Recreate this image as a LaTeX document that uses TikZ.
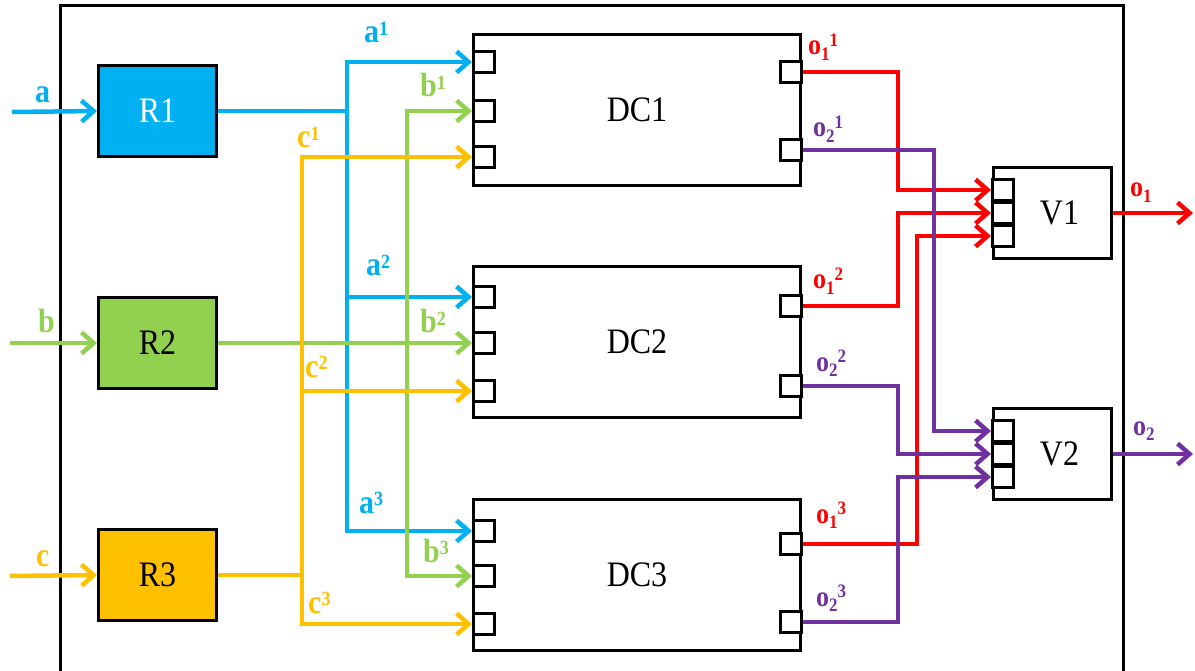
\documentclass[tikz,border=0pt]{standalone}
\usepackage{fontspec}
\setmainfont{Liberation Serif}
\usepackage{graphicx}
\usetikzlibrary{arrows.meta}
\definecolor{cblue}{HTML}{00B0F0}
\definecolor{cgreen}{HTML}{92D050}
\definecolor{corange}{HTML}{FFC000}
\definecolor{cred}{HTML}{FF0000}
\definecolor{cpurple}{HTML}{7030A0}
\newcommand\stz[1]{\scalebox{1}[1.12]{#1}}
\newcommand\lsp[1]{\raisebox{7pt}{\fontsize{18}{19}\selectfont #1}}
\newcommand\osb[1]{\raisebox{-5pt}{\fontsize{17}{18}\selectfont #1}}
\newcommand\osp[1]{\raisebox{8pt}{\fontsize{17}{18}\selectfont #1}}
\begin{document}
\begin{tikzpicture}[x=1pt,y=-1pt,
  blk/.style={draw=black, line width=3pt, inner sep=0pt, font=\fontsize{32}{34}\selectfont},
  rblk/.style={blk, minimum width=118pt, minimum height=91pt},
  dcblk/.style={blk, minimum width=327pt, minimum height=151pt},
  vblk/.style={blk, minimum width=118pt, minimum height=91pt},
  port/.style={draw=black, line width=3pt, minimum size=21pt, inner sep=0pt, fill=white},
  wire/.style={line width=4.5pt, line join=miter},
  arr/.style={wire, -{Straight Barb[length=12pt,width=21pt]}},
  lbl/.style={inner sep=0pt, anchor=base west, font=\fontsize{30}{31}\selectfont\bfseries},
  olbl/.style={inner sep=0pt, anchor=base west, font=\fontsize{26}{27}\selectfont\bfseries}]
\useasboundingbox (0,0) rectangle (1195,671);
% outer frame
\draw[line width=3pt] (60,680) -- (60,6) -- (1123,6) -- (1123,680);

% R blocks
\node[rblk, fill=cblue]   (R1) at (157.5,111) {\stz{\textcolor{white}{R1}}};
\node[rblk, fill=cgreen]  (R2) at (157.5,343) {\stz{R2}};
\node[rblk, fill=corange] (R3) at (157.5,575) {\stz{R3}};

% DC blocks
\node[dcblk] (DC1) at (637,110) {\stz{DC1}};
\node[dcblk] (DC2) at (637,342) {\stz{DC2}};
\node[dcblk] (DC3) at (637,575) {\stz{DC3}};

% DC left ports
\node[port] (DC1a) at (484,62) {};
\node[port] (DC1b) at (484,111) {};
\node[port] (DC1c) at (484,157) {};
\node[port] (DC2a) at (484,297) {};
\node[port] (DC2b) at (484,343) {};
\node[port] (DC2c) at (484,391) {};
\node[port] (DC3a) at (484,531) {};
\node[port] (DC3b) at (484,576) {};
\node[port] (DC3c) at (484,624) {};
% DC right ports
\node[port] (DC1o) at (791,72) {};
\node[port] (DC1p) at (791,150) {};
\node[port] (DC2o) at (791,306) {};
\node[port] (DC2p) at (791,386) {};
\node[port] (DC3o) at (791,544) {};
\node[port] (DC3p) at (791,622) {};

% V blocks
\node[vblk] (V1) at (1052.5,213) {\hspace*{14pt}\stz{V1}};
\node[vblk] (V2) at (1052.5,454) {\hspace*{14pt}\stz{V2}};
\node[port] (V1a) at (1003,190) {};
\node[port] (V1b) at (1003,213) {};
\node[port] (V1c) at (1003,236) {};
\node[port] (V2a) at (1003,431) {};
\node[port] (V2b) at (1003,454) {};
\node[port] (V2c) at (1003,477) {};

% inputs
\coordinate (ain) at (12,112);
\coordinate (bin) at (10,343);
\coordinate (cin) at (10,576);
\draw[arr, cblue]   (ain) -- (R1.west);
\draw[arr, cgreen]  (bin) -- (R2.west);
\draw[arr, corange] (cin) -- (R3.west);

% distribution wires
\draw[arr, cblue] (R1.east) -- ++(129,0) |- (DC1a.west);
\draw[arr, cblue] (R1.east) -- ++(129,0) |- (DC2a.west);
\draw[arr, cblue] (R1.east) -- ++(129,0) |- (DC3a.west);
\draw[arr, cgreen] (R2.east) -- (DC2b.west);
\draw[arr, cgreen] (R2.east) -- ++(189,0) |- (DC1b.west);
\draw[arr, cgreen] (R2.east) -- ++(189,0) |- (DC3b.west);
\draw[arr, corange] (R3.east) -- ++(84,0) |- (DC1c.west);
\draw[arr, corange] (R3.east) -- ++(84,0) |- (DC2c.west);
\draw[arr, corange] (R3.east) -- ++(84,0) |- (DC3c.west);

% voter wires
\draw[arr, cred] (DC1o.east) -- ++(95,0) |- (V1a.west);
\draw[arr, cred] (DC2o.east) -- ++(95,0) |- (V1b.west);
\draw[arr, cred] (DC3o.east) -- ++(114,0) |- (V1c.west);
\draw[arr, cpurple] (DC1p.east) -- ++(131,0) |- (V2a.west);
\draw[arr, cpurple] (DC2p.east) -- ++(95,0) |- (V2b.west);
\draw[arr, cpurple] (DC3p.east) -- ++(95,0) |- (V2c.west);

% outputs
\coordinate (o1out) at (1193,213);
\coordinate (o2out) at (1193,454);
\draw[arr, cred] (V1.east) -- (o1out);
\draw[arr, cpurple] (V2.east) -- (o2out);

% labels
\node[lbl, text=cblue]   (la)  at (35,103)  {\stz{a}};
\node[lbl, text=cgreen]  (lb)  at (38,333)  {\stz{b}};
\node[lbl, text=corange] (lc)  at (36,566)  {\stz{c}};
\node[lbl, text=cblue]   (la1) at (364,43)  {\stz{a\lsp{1}}};
\node[lbl, text=cgreen]  (lb1) at (420,97)  {\stz{b\lsp{1}}};
\node[lbl, text=corange] (lc1) at (297,148) {\stz{c\lsp{1}}};
\node[lbl, text=cblue]   (la2) at (366,276) {\stz{a\lsp{2}}};
\node[lbl, text=cgreen]  (lb2) at (420,333) {\stz{b\lsp{2}}};
\node[lbl, text=corange] (lc2) at (305,377) {\stz{c\lsp{2}}};
\node[lbl, text=cblue]   (la3) at (359,513) {\stz{a\lsp{3}}};
\node[lbl, text=cgreen]  (lb3) at (423,562) {\stz{b\lsp{3}}};
\node[lbl, text=corange] (lc3) at (308,613) {\stz{c\lsp{3}}};

\node[olbl, text=cred]    (lo11) at (808,55)  {\stz{o\osb{1}\osp{1}}};
\node[olbl, text=cpurple] (lo21) at (813,137) {\stz{o\osb{2}\osp{1}}};
\node[olbl, text=cred]    (lo12) at (813,289) {\stz{o\osb{1}\osp{2}}};
\node[olbl, text=cpurple] (lo22) at (816,371) {\stz{o\osb{2}\osp{2}}};
\node[olbl, text=cred]    (lo13) at (816,523) {\stz{o\osb{1}\osp{3}}};
\node[olbl, text=cpurple] (lo23) at (816,606) {\stz{o\osb{2}\osp{3}}};
\node[olbl, text=cred]    (lo1)  at (1130,197) {\stz{o\osb{1}}};
\node[olbl, text=cpurple] (lo2)  at (1133,435) {\stz{o\osb{2}}};
\end{tikzpicture}
\end{document}
